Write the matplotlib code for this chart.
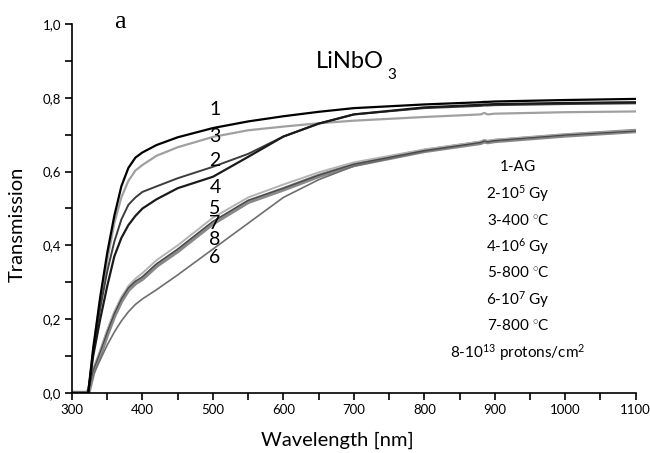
import numpy as np
import matplotlib
matplotlib.use("Agg")
import matplotlib.pyplot as plt
from matplotlib.ticker import MultipleLocator, FuncFormatter

plt.rcParams["font.family"] = ["Lato", "DejaVu Sans"]
plt.rcParams["mathtext.fontset"] = "custom"
plt.rcParams["mathtext.rm"] = "Lato"
plt.rcParams["mathtext.it"] = "Lato"

# wavelength grid (nm) used for reading the curves
wl = [300, 320, 323, 330, 340, 350, 360, 370, 380, 390, 400, 420, 450, 500,
      550, 600, 650, 700, 800, 880, 885, 890, 900, 1000, 1100]

t1 = [0, 0, 0.0, 0.12, 0.26, 0.38, 0.48, 0.56, 0.61, 0.638, 0.652, 0.672, 0.693, 0.718,
      0.736, 0.75, 0.762, 0.772, 0.782, 0.788, 0.789, 0.789, 0.79, 0.794, 0.797]
t2 = [0, 0, 0.0, 0.11, 0.23, 0.33, 0.41, 0.47, 0.51, 0.53, 0.545, 0.56, 0.582, 0.613,
      0.648, 0.695, 0.73, 0.755, 0.772, 0.778, 0.779, 0.779, 0.78, 0.783, 0.785]
t3 = [0, 0, 0.0, 0.12, 0.25, 0.36, 0.46, 0.53, 0.575, 0.603, 0.618, 0.643, 0.666, 0.694,
      0.712, 0.722, 0.731, 0.738, 0.748, 0.755, 0.759, 0.755, 0.757, 0.761, 0.763]
t4 = [0, 0, 0.0, 0.10, 0.20, 0.29, 0.37, 0.42, 0.455, 0.48, 0.50, 0.525, 0.555, 0.586,
      0.64, 0.695, 0.73, 0.755, 0.774, 0.781, 0.782, 0.782, 0.783, 0.786, 0.788]
t5 = [0, 0, 0.0, 0.06, 0.11, 0.17, 0.22, 0.26, 0.29, 0.31, 0.325, 0.36, 0.40, 0.475,
      0.53, 0.565, 0.598, 0.625, 0.66, 0.681, 0.685, 0.683, 0.686, 0.70, 0.711]
t6 = [0, 0, 0.0, 0.05, 0.09, 0.13, 0.165, 0.195, 0.22, 0.24, 0.255, 0.28, 0.32, 0.39,
      0.46, 0.53, 0.578, 0.615, 0.655, 0.679, 0.683, 0.681, 0.684, 0.699, 0.71]
t7 = [0, 0, 0.0, 0.06, 0.11, 0.165, 0.215, 0.255, 0.285, 0.303, 0.315, 0.35, 0.39, 0.465,
      0.522, 0.555, 0.59, 0.62, 0.657, 0.679, 0.683, 0.681, 0.684, 0.699, 0.71]
t8 = [0, 0, 0.0, 0.055, 0.105, 0.16, 0.21, 0.25, 0.28, 0.298, 0.31, 0.345, 0.385, 0.46,
      0.518, 0.552, 0.588, 0.618, 0.656, 0.678, 0.682, 0.680, 0.683, 0.698, 0.71]

curves = [t1, t2, t3, t4, t5, t6, t7, t8]
colors = ["#000000", "#3c3c3c", "#a0a0a0", "#1a1a1a", "#b4b4b4", "#6e6e6e", "#4a4a4a", "#888888"]
widths = [1.6, 1.4, 1.6, 1.6, 1.4, 1.2, 1.0, 3.2]
draw_order = [7, 5, 4, 6, 2, 1, 3, 0]

num_labels = ["1", "3", "2", "4", "5", "7", "8", "6"]
num_y = [0.767, 0.694, 0.629, 0.556, 0.501, 0.458, 0.415, 0.366]

legend_lines = ["1-AG", "2-10$^{5}$ Gy", "3-400 $^{\\circ}$C", "4-10$^{6}$ Gy",
                "5-800 $^{\\circ}$C", "6-10$^{7}$ Gy", "7-800 $^{\\circ}$C",
                "8-10$^{13}$ protons/cm$^{2}$"]

fig = plt.figure(figsize=(6.5, 4.53), dpi=100)
ax = fig.add_axes([0.1108, 0.1325, 0.8672, 0.8145])

for i in draw_order:
    ax.plot(wl, curves[i], color=colors[i], lw=widths[i], solid_capstyle="round")

ax.set_xlim(300, 1100)
ax.set_ylim(0, 1.0)
ax.xaxis.set_major_locator(MultipleLocator(100))
ax.xaxis.set_minor_locator(MultipleLocator(50))
ax.yaxis.set_major_locator(MultipleLocator(0.2))
ax.yaxis.set_minor_locator(MultipleLocator(0.1))
ax.yaxis.set_major_formatter(FuncFormatter(lambda v, p: f"{v:.1f}".replace(".", ",")))
ax.tick_params(which="both", direction="out", width=1.2, labelsize=9.5, pad=3)
ax.tick_params(which="major", length=5)
ax.tick_params(which="minor", length=5)
for s in ["top", "right"]:
    ax.spines[s].set_visible(False)
for s in ["left", "bottom"]:
    ax.spines[s].set_linewidth(1.2)

# axis titles placed like the reference (slightly off-centre)
fig.text(337 / 650, 1 - 440 / 453, "Wavelength [nm]", fontsize=14.5, ha="center", va="center")
fig.text(17 / 650, 1 - 224 / 453, "Transmission", fontsize=14.5, ha="center", va="center",
         rotation=90)

for lab, y in zip(num_labels, num_y):
    ax.text(503, y, lab, fontsize=14, ha="center", va="center")

for k, line in enumerate(legend_lines):
    ax.text(933, 0.612 - k * 0.0717, line, fontsize=11, ha="center", va="center")

fig.text(350 / 650, 1 - 62 / 453, "LiNbO", fontsize=17, ha="center", va="center")
fig.text(387 / 650, 1 - 75 / 453, "3", fontsize=11, ha="left", va="center")
fig.text(120 / 650, 1 - 22 / 453, "a", fontsize=19, family="Liberation Serif",
         ha="center", va="center")

fig.savefig("out.png", dpi=100)
